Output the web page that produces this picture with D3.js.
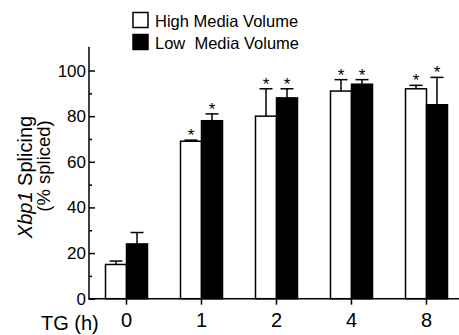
<!DOCTYPE html>
<html>
<head>
<meta charset="utf-8">
<script src="https://cdn.jsdelivr.net/npm/d3@7"></script>
<style>
  body { margin: 0; background: #fff; }
  svg { display: block; font-family: "Liberation Sans", Arial, sans-serif; }
</style>
</head>
<body>
<div id="chart"></div>
<script>
const categories = ['0', '1', '2', '4', '8'];
const seriesNames = ['High Media Volume', 'Low  Media Volume'];
const highValues = [15, 69, 80, 91, 92];
const highErrors = [1.5, 0.5, 12, 5, 1.5];
const lowValues = [24, 78, 88, 94, 85];
const lowErrors = [5, 3, 4, 2, 12];
const significant = [[false, true, true, true, true], [false, true, true, true, true]];
const yTicks = [0, 20, 40, 60, 80, 100];

const width = 459, height = 335;
const svg = d3.select('#chart').append('svg')
  .attr('width', width)
  .attr('height', height);

const x = d3.scaleBand().domain(categories).range([89, 464]).padding(0);
const y = d3.scaleLinear().domain([0, 110]).range([298.7, 47.7]);
const barW = 21;

const series = [
  { name: seriesNames[0], values: highValues, errors: highErrors, fill: '#fff', offset: -barW },
  { name: seriesNames[1], values: lowValues, errors: lowErrors, fill: '#000', offset: 0 }
];

// bars
series.forEach((s, si) => {
  const g = svg.append('g');
  const rows = categories.map((c, i) => ({ c, v: s.values[i], e: s.errors[i], sig: significant[si][i] }));
  const cx = d => x(d.c) + x.bandwidth() / 2 + s.offset + barW / 2;

  // error bars (upward only)
  g.selectAll('line.err').data(rows).join('line')
    .attr('x1', cx).attr('x2', cx)
    .attr('y1', d => y(d.v))
    .attr('y2', d => y(d.v + d.e))
    .attr('stroke', '#000').attr('stroke-width', 1.5);
  g.selectAll('line.cap').data(rows).join('line')
    .attr('x1', d => cx(d) - 6.5)
    .attr('x2', d => cx(d) + 6.5)
    .attr('y1', d => y(d.v + d.e))
    .attr('y2', d => y(d.v + d.e))
    .attr('stroke', '#000').attr('stroke-width', 1.5);

  g.selectAll('rect').data(rows).join('rect')
    .attr('x', d => x(d.c) + x.bandwidth() / 2 + s.offset)
    .attr('y', d => y(d.v))
    .attr('width', barW)
    .attr('height', d => y(0) - y(d.v))
    .attr('fill', s.fill)
    .attr('stroke', '#000')
    .attr('stroke-width', 1.5);

  g.selectAll('text').data(rows.filter(d => d.sig)).join('text')
    .attr('x', cx)
    .attr('y', d => y(d.v + d.e) + 1)
    .attr('text-anchor', 'middle')
    .attr('font-size', 17)
    .text('*');
});

// y axis (ticks pointing inward)
const yAxis = svg.append('g').attr('transform', 'translate(89,0)')
  .call(d3.axisRight(y).tickValues(d3.range(10, 110, 20)).tickSize(3).tickFormat(''));
yAxis.select('.domain').remove();
const yAxisMajor = svg.append('g').attr('transform', 'translate(89,0)')
  .call(d3.axisRight(y).tickValues(yTicks).tickSize(6).tickFormat(''));
yAxisMajor.select('.domain').remove();
svg.selectAll('.tick line').attr('stroke-width', 1.5);
svg.append('line')
  .attr('x1', 89).attr('x2', 89)
  .attr('y1', y(110) - 1).attr('y2', y(0))
  .attr('stroke', '#000').attr('stroke-width', 1.5);
svg.append('g').selectAll('text').data(yTicks).join('text')
  .attr('x', 86)
  .attr('y', d => y(d) + 6)
  .attr('text-anchor', 'end')
  .attr('font-size', 17)
  .text(d => d);

// x axis
const xAxis = svg.append('g').attr('transform', `translate(0,${y(0)})`)
  .call(d3.axisBottom(x).tickSize(6).tickPadding(8));
xAxis.select('.domain').remove();
xAxis.selectAll('.tick line').attr('stroke-width', 1.5);
xAxis.selectAll('.tick text').attr('font-size', 20).attr('font-family', '"Liberation Sans", Arial, sans-serif').attr('fill', '#000');
svg.append('line')
  .attr('x1', 88).attr('x2', 459)
  .attr('y1', y(0)).attr('y2', y(0))
  .attr('stroke', '#000').attr('stroke-width', 1.5);
svg.append('text')
  .attr('x', 41).attr('y', 330)
  .attr('font-size', 20)
  .text('TG (h)');

// y label
const yl = svg.append('text')
  .attr('transform', 'translate(32,177) rotate(-90)')
  .attr('text-anchor', 'middle')
  .attr('font-size', 20);
yl.append('tspan').attr('font-style', 'italic').text('Xbp1');
yl.append('tspan').text(' Splicing');
svg.append('text')
  .attr('transform', 'translate(50,166) rotate(-90)')
  .attr('text-anchor', 'middle')
  .attr('font-size', 18.5)
  .text('(% spliced)');

// legend
const legend = svg.append('g');
series.forEach((s, i) => {
  legend.append('rect')
    .attr('x', 133).attr('y', 12.5 + i * 22)
    .attr('width', 15).attr('height', 15)
    .attr('fill', s.fill).attr('stroke', '#000').attr('stroke-width', 1.5);
  legend.append('text')
    .attr('x', 155).attr('y', 27 + i * 22)
    .attr('font-size', 16.5)
    .style('white-space', 'pre')
    .text(s.name);
});
</script>
</body>
</html>
